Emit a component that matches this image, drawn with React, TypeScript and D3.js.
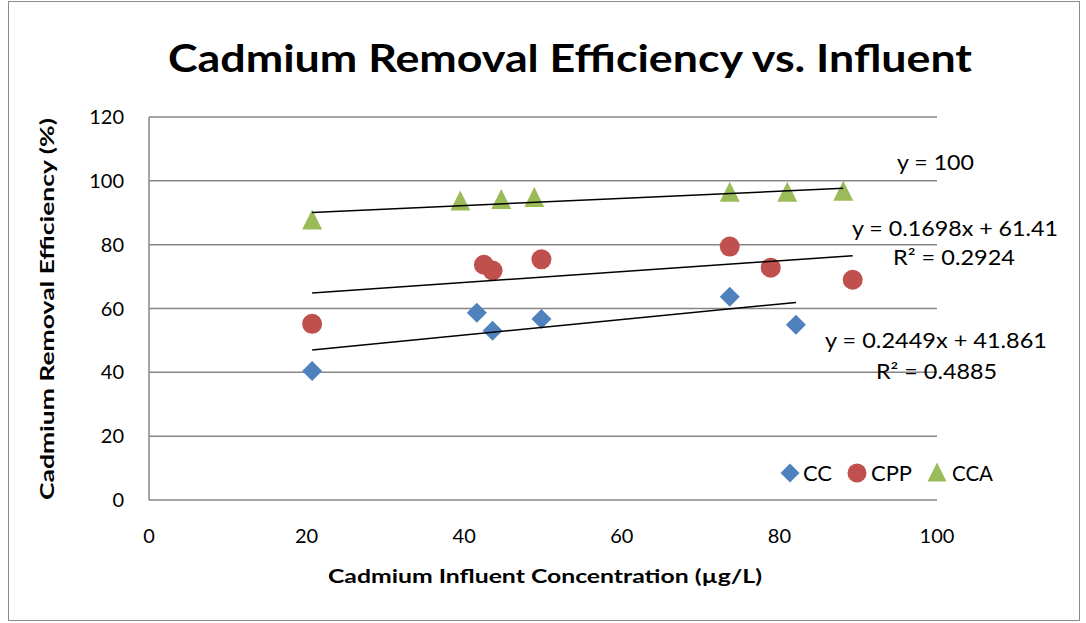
import React from "react";
import * as d3 from "d3";

const ccX = [20.7, 41.6, 43.6, 49.8, 73.7, 82.1];
const ccY = [40.4, 58.7, 53.0, 56.7, 63.7, 54.9];
const cppX = [20.7, 42.5, 43.6, 49.8, 73.7, 78.9, 89.3];
const cppY = [55.2, 73.7, 71.9, 75.4, 79.4, 72.8, 69.0];
const ccaX = [20.7, 39.5, 44.7, 48.9, 73.7, 81.0, 88.1];
const ccaY = [87.6, 93.5, 94.0, 94.6, 96.3, 96.3, 96.6];

const xTicks = [0, 20, 40, 60, 80, 100];
const yTicks = [0, 20, 40, 60, 80, 100, 120];

const seriesNames = ["CC", "CPP", "CCA"];
const colors = ["#4F81BD", "#C0504D", "#9BBB59"];
const equations = [
  ["y = 0.2449x + 41.861", "R² = 0.4885"],
  ["y = 0.1698x + 61.41", "R² = 0.2924"],
  ["y = 100"],
];

const title = "Cadmium Removal Efficiency vs. Influent";
const xTitle = "Cadmium Influent Concentration (µg/L)";
const yTitle = "Cadmium Removal Efficiency (%)";

function linreg(xs: number[], ys: number[]) {
  const mx = d3.mean(xs)!;
  const my = d3.mean(ys)!;
  let num = 0, den = 0;
  xs.forEach((x, i) => {
    num += (x - mx) * (ys[i] - my);
    den += (x - mx) * (x - mx);
  });
  const m = num / den;
  return { m, b: my - m * mx };
}

const FONT = "Lato, 'Open Sans', sans-serif";

export default function App() {
  const W = 1086, H = 623;
  const x = d3.scaleLinear().domain([0, 100]).range([149, 937]);
  const y = d3.scaleLinear().domain([0, 120]).range([500, 117]);

  const series = [
    { xs: ccX, ys: ccY },
    { xs: cppX, ys: cppY },
    { xs: ccaX, ys: ccaY },
  ];

  const marker = (kind: number, cx: number, cy: number, color: string, s: number, key?: any) => {
    if (kind === 0) {
      const r = s * 0.5;
      return <path key={key} d={`M${cx},${cy - r}L${cx + r},${cy}L${cx},${cy + r}L${cx - r},${cy}Z`} fill={color} />;
    }
    if (kind === 1) return <circle key={key} cx={cx} cy={cy} r={s * 0.5} fill={color} />;
    const h = s;
    return <path key={key} d={`M${cx},${cy - h * 0.55}L${cx + s * 0.5},${cy + h * 0.45}L${cx - s * 0.5},${cy + h * 0.45}Z`} fill={color} />;
  };

  const eqPos = [
    [{ x: 825, y: 348, w: 222 }, { x: 876, y: 379, w: 121 }],
    [{ x: 852, y: 236, w: 206 }, { x: 893, y: 265, w: 122 }],
    [{ x: 897, y: 170, w: 77 }],
  ];

  const legendPos = [
    { mx: 790, tx: 803, w: 29 },
    { mx: 857, tx: 871, w: 41 },
    { mx: 937, tx: 952, w: 41 },
  ];

  return (
    <svg width={W} height={H} style={{ position: "absolute", left: 0, top: 0, background: "#fff" }} fontFamily={FONT}>
      <rect x={8.5} y={1.5} width={1071} height={619} fill="#fff" stroke="#8c8c8c" strokeWidth={1} />
      <text x={570} y={72} textAnchor="middle" fontSize={38} fontWeight="bold" textLength={804} lengthAdjust="spacingAndGlyphs">{title}</text>
      {yTicks.map((t) => (
        <line key={"g" + t} x1={x(0)} x2={x(100)} y1={y(t)} y2={y(t)} stroke="#868686" strokeWidth={1.5} />
      ))}
      <line x1={x(0)} x2={x(0)} y1={y(0)} y2={y(120)} stroke="#868686" strokeWidth={1.5} />
      {yTicks.map((t) => (
        <text key={"yt" + t} x={124} y={y(t) + 7} textAnchor="end" fontSize={20}>{t}</text>
      ))}
      {xTicks.map((t) => (
        <text key={"xt" + t} x={x(t)} y={543} textAnchor="middle" fontSize={20}>{t}</text>
      ))}
      <text x={545} y={583} textAnchor="middle" fontSize={19} fontWeight="bold" textLength={434} lengthAdjust="spacingAndGlyphs">{xTitle}</text>
      <text transform={`translate(54,309) rotate(-90)`} textAnchor="middle" fontSize={19} fontWeight="bold" textLength={382} lengthAdjust="spacingAndGlyphs">{yTitle}</text>
      {series.map((s, si) => (
        <g key={"s" + si}>
          {s.xs.map((xv, i) => marker(si, x(xv), y(s.ys[i]), colors[si], 20, i))}
        </g>
      ))}
      {series.map((s, si) => {
        const { m, b } = linreg(s.xs, s.ys);
        const x0 = d3.min(s.xs)!, x1 = d3.max(s.xs)!;
        return <line key={"tl" + si} x1={x(x0)} y1={y(m * x0 + b)} x2={x(x1)} y2={y(m * x1 + b)} stroke="#000" strokeWidth={1.5} />;
      })}
      {equations.map((lines, si) =>
        lines.map((l, li) => (
          <text key={"eq" + si + li} x={eqPos[si][li].x} y={eqPos[si][li].y} fontSize={21} textLength={eqPos[si][li].w} lengthAdjust="spacingAndGlyphs">{l}</text>
        ))
      )}
      {seriesNames.map((n, i) => {
        const p = legendPos[i];
        return (
          <g key={"lg" + i}>
            {marker(i, p.mx, 473, colors[i], 19)}
            <text x={p.tx} y={481} fontSize={21} textLength={p.w} lengthAdjust="spacingAndGlyphs">{n}</text>
          </g>
        );
      })}
    </svg>
  );
}
